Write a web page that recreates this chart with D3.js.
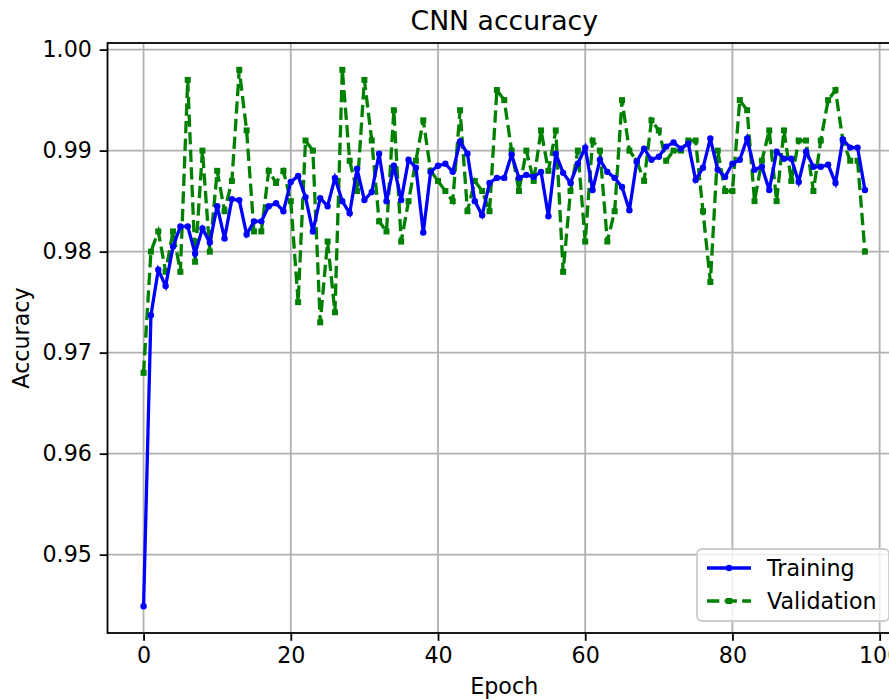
<!DOCTYPE html>
<html>
<head>
<meta charset="utf-8">
<script src="https://cdn.jsdelivr.net/npm/d3@7"></script>
<style>
  body { margin: 0; background: #fff; }
  text { font-family: "DejaVu Sans", sans-serif; fill: #000; }
</style>
</head>
<body>
<svg width="889" height="699"></svg>
<script>
var svg = d3.select("svg"),
	width = +svg.attr("width"),
	height = +svg.attr("height");

// accuracy per epoch
var training = [
	0.9449, 0.9737, 0.9782, 0.9766, 0.9805, 0.9825, 0.9825, 0.9798, 0.9823, 0.9809,
	0.9845, 0.9813, 0.9852, 0.9851, 0.9817, 0.9830, 0.9830, 0.9845, 0.9848, 0.9840,
	0.9869, 0.9875, 0.9854, 0.9820, 0.9853, 0.9845, 0.9873, 0.9850, 0.9838, 0.9882,
	0.9851, 0.9859, 0.9897, 0.9850, 0.9885, 0.9851, 0.9891, 0.9883, 0.9819, 0.9879,
	0.9885, 0.9887, 0.9879, 0.9909, 0.9897, 0.9850, 0.9836, 0.9868, 0.9873, 0.9873,
	0.9896, 0.9873, 0.9876, 0.9874, 0.9879, 0.9835, 0.9897, 0.9878, 0.9868, 0.9887,
	0.9903, 0.9861, 0.9891, 0.9879, 0.9873, 0.9864, 0.9841, 0.9889, 0.9902, 0.9891,
	0.9894, 0.9904, 0.9908, 0.9902, 0.9907, 0.9871, 0.9883, 0.9912, 0.9881, 0.9874,
	0.9887, 0.9891, 0.9912, 0.9881, 0.9884, 0.9861, 0.9899, 0.9892, 0.9892, 0.9869,
	0.9899, 0.9884, 0.9884, 0.9886, 0.9868, 0.9911, 0.9903, 0.9903, 0.9861
];
var validation = [
	0.968, 0.980, 0.982, 0.978, 0.982, 0.978, 0.997, 0.979, 0.990, 0.980,
	0.988, 0.984, 0.987, 0.998, 0.992, 0.982, 0.982, 0.988, 0.9868, 0.988,
	0.985, 0.975, 0.991, 0.990, 0.973, 0.981, 0.974, 0.998, 0.989, 0.986,
	0.997, 0.991, 0.983, 0.982, 0.994, 0.981, 0.985, 0.989, 0.993, 0.988,
	0.987, 0.986, 0.985, 0.994, 0.984, 0.987, 0.986, 0.984, 0.996, 0.995,
	0.990, 0.986, 0.990, 0.987, 0.992, 0.988, 0.992, 0.978, 0.986, 0.990,
	0.981, 0.991, 0.990, 0.981, 0.984, 0.995, 0.990, 0.989, 0.987, 0.993,
	0.992, 0.989, 0.990, 0.990, 0.991, 0.991, 0.984, 0.977, 0.990, 0.986,
	0.986, 0.995, 0.994, 0.985, 0.989, 0.992, 0.985, 0.992, 0.987, 0.991,
	0.991, 0.986, 0.991, 0.995, 0.996, 0.991, 0.989, 0.989, 0.980
];
var xTicks = [0, 20, 40, 60, 80, 100];
var yTicks = [0.95, 0.96, 0.97, 0.98, 0.99, 1.00];
var seriesNames = ["Training", "Validation"];
var seriesColors = ["#0000ff", "#008000"];

// plot box (the figure is cropped on the right, like the source)
var pL = 107.5, pR = 901, pT = 43, pB = 633;
var fs = 22.2;

// matplotlib-like 5% margins
var n = training.length;
var all = training.concat(validation);
var ymin = d3.min(all), ymax = d3.max(all);
var ypad = (ymax - ymin) * 0.05, xpad = (n - 1) * 0.05;

var x = d3.scaleLinear().domain([-xpad, n - 1 + xpad]).range([pL, pR]);
var y = d3.scaleLinear().domain([ymin - ypad, ymax + ypad]).range([pB, pT]);

//grid
var grid = svg.append("g");
grid.selectAll(".gx").data(xTicks).enter().append("line")
	.attr("x1", function(d) { return x(d); }).attr("x2", function(d) { return x(d); })
	.attr("y1", pT).attr("y2", pB)
	.attr("stroke", "#b0b0b0").attr("stroke-width", 1.8);
grid.selectAll(".gy").data(yTicks).enter().append("line")
	.attr("x1", pL).attr("x2", pR)
	.attr("y1", function(d) { return y(d); }).attr("y2", function(d) { return y(d); })
	.attr("stroke", "#b0b0b0").attr("stroke-width", 1.8);

//axes
var xAxis = svg.append("g").attr("transform", "translate(0," + pB + ")")
	.call(d3.axisBottom(x).tickValues(xTicks).tickFormat(d3.format("d")).tickSize(7.8).tickPadding(6));
var yAxis = svg.append("g").attr("transform", "translate(" + pL + ",0)")
	.call(d3.axisLeft(y).tickValues(yTicks).tickFormat(d3.format(".2f")).tickSize(7.8).tickPadding(7.8));
[xAxis, yAxis].forEach(function(a) {
	a.select(".domain").remove();
	a.selectAll("line").attr("stroke", "#000").attr("stroke-width", 1.8);
	a.selectAll("text").style("font-size", fs + "px").attr("font-family", "DejaVu Sans").attr("fill", "#000");
});

//lines
var line = d3.line().x(function(d, i) { return x(i); }).y(function(d) { return y(d); });

svg.append("path").datum(validation)
	.attr("d", line).attr("fill", "none")
	.attr("stroke", seriesColors[1]).attr("stroke-width", 3.3)
	.attr("stroke-dasharray", "12.3,5.3");
svg.append("g").selectAll("rect").data(validation).enter().append("rect")
	.attr("x", function(d, i) { return x(i) - 3; })
	.attr("y", function(d) { return y(d) - 3; })
	.attr("width", 6).attr("height", 6)
	.attr("fill", seriesColors[1]);

svg.append("path").datum(training)
	.attr("d", line).attr("fill", "none")
	.attr("stroke", seriesColors[0]).attr("stroke-width", 3.3);
svg.append("g").selectAll("circle").data(training).enter().append("circle")
	.attr("cx", function(d, i) { return x(i); })
	.attr("cy", function(d) { return y(d); })
	.attr("r", 3.2)
	.attr("fill", seriesColors[0]);

//frame
svg.append("rect")
	.attr("x", pL).attr("y", pT)
	.attr("width", pR - pL).attr("height", pB - pT)
	.attr("fill", "none").attr("stroke", "#000").attr("stroke-width", 1.8);

//title + labels
svg.append("text").attr("x", (pL + pR) / 2).attr("y", 30)
	.attr("text-anchor", "middle").style("font-size", "26.7px").text("CNN accuracy");
svg.append("text").attr("x", (pL + pR) / 2).attr("y", 694)
	.attr("text-anchor", "middle").style("font-size", fs + "px").text("Epoch");
svg.append("text").attr("transform", "translate(29," + (pT + pB) / 2 + ") rotate(-90)")
	.attr("text-anchor", "middle").style("font-size", fs + "px").text("Accuracy");

//legend
var lg = svg.append("g").attr("transform", "translate(697,549)");
lg.append("rect").attr("width", 192).attr("height", 72).attr("rx", 5)
	.attr("fill", "#fff").attr("fill-opacity", 0.8)
	.attr("stroke", "#cccccc").attr("stroke-width", 1.8);
seriesNames.forEach(function(name, i) {
	var cy = 19 + i * 33;
	var row = lg.append("g").attr("transform", "translate(0," + cy + ")");
	row.append("line").attr("x1", 10).attr("x2", 54).attr("y1", 0).attr("y2", 0)
		.attr("stroke", seriesColors[i]).attr("stroke-width", 3.3)
		.attr("stroke-dasharray", i ? "12.3,5.3" : null);
	if (i) {
		row.append("rect").attr("x", 29).attr("y", -3).attr("width", 6).attr("height", 6).attr("fill", seriesColors[i]);
	} else {
		row.append("circle").attr("cx", 32).attr("cy", 0).attr("r", 3.2).attr("fill", seriesColors[i]);
	}
	row.append("text").attr("x", 70).attr("y", 8).style("font-size", fs + "px").text(name);
});
</script>
</body>
</html>
